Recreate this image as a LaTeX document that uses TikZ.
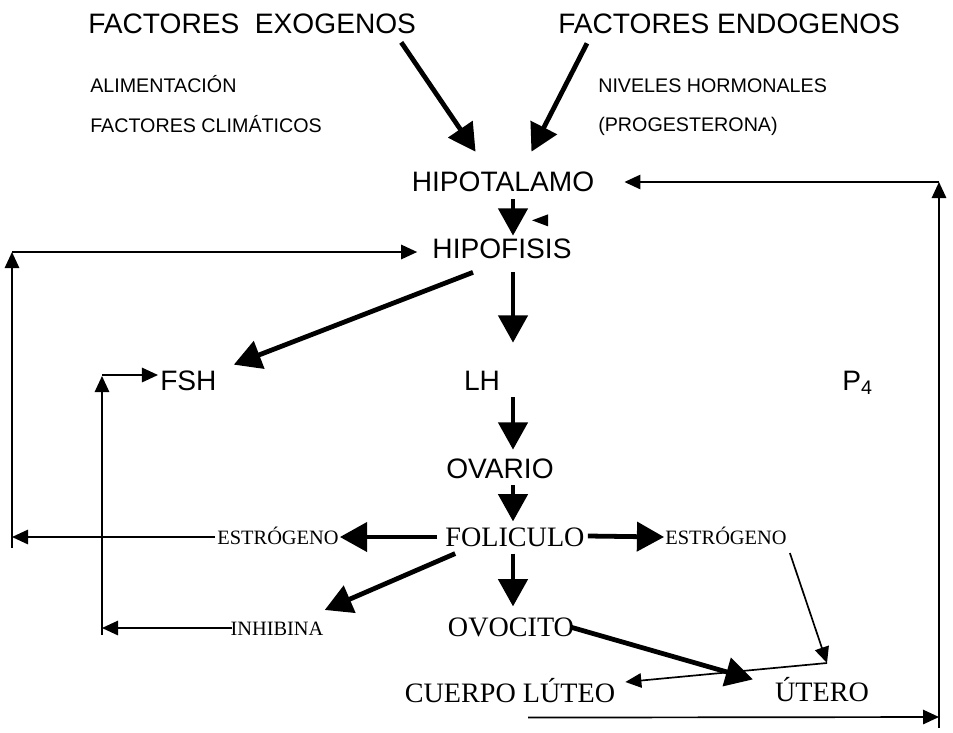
\documentclass[tikz,border=0pt]{standalone}
\usepackage{fontspec}
\setmainfont{Liberation Serif}
\setsansfont{Liberation Sans}
\usepackage{tikz}
\usetikzlibrary{arrows.meta,calc}

\begin{document}
\begin{tikzpicture}[x=0.025cm, y=-0.025cm,
        grande/.style={font=\sffamily\fontsize{20}{24}\selectfont, inner sep=0pt, text height=14.3pt, text depth=0pt},
        chico/.style={font=\sffamily\fontsize{14}{17}\selectfont, inner sep=0pt, text height=10pt, text depth=0pt},
        romana/.style={font=\rmfamily\fontsize{20}{24}\selectfont, inner sep=0pt, text height=13.2pt, text depth=0pt},
        romchica/.style={font=\rmfamily\fontsize{14.5}{17}\selectfont, inner sep=0pt, text height=9.6pt, text depth=0pt},
        gruesa/.style={line width=3.4pt, -{Triangle[length=0.68cm, width=0.72cm]}},
        fina/.style={line width=1.2pt, -{Triangle[length=0.4cm, width=0.36cm]}}]
        \useasboundingbox (0, 0) rectangle (953, 732);

        % factores
        \node[grande, anchor=west] (exo) at (88, 23) {FACTORES\ \ EXOGENOS};
        \node[grande, anchor=west] (endo) at (558, 23) {FACTORES ENDOGENOS};
        \node[chico, anchor=west] (alim) at (90, 85) {ALIMENTACIÓN};
        \node[chico, anchor=west] (clima) at (90, 125) {FACTORES CLIMÁTICOS};
        \node[chico, anchor=west] (niveles) at (598, 85) {NIVELES HORMONALES};
        \node[chico, anchor=west] (prog) at (598, 124) {(PROGESTERONA)};

        % eje central
        \node[grande] (hipotalamo) at (503, 181) {HIPOTALAMO};
        \node[grande] (hipofisis) at (502, 248) {HIPOFISIS};
        \node[grande, anchor=west] (fsh) at (160, 380) {FSH};
        \node[grande] (lh) at (482, 380) {LH};
        \node[grande, anchor=west] (p4) at (842, 380) {P\textsubscript{4}};
        \node[grande] (ovario) at (500, 468) {OVARIO};
        \node[romana] (foliculo) at (515, 537) {FOLICULO};
        \node[romchica] (estrL) at (278, 538) {ESTRÓGENO};
        \node[romchica] (estrR) at (726, 538) {ESTRÓGENO};
        \node[romchica] (inhibina) at (277, 629) {INHIBINA};
        \node[romana] (ovocito) at (511, 627) {OVOCITO};
        \node[romana] (cuerpo) at (510, 693) {CUERPO LÚTEO};
        \node[romana] (utero) at (822, 692) {ÚTERO};

        % flechas gruesas
        \draw[gruesa] ($(exo.south east)+(-15, 9)$) -- ($(hipotalamo.north west)+(64, -19)$);
        \draw[gruesa] ($(endo.south west)+(29, 10)$) -- ($(hipotalamo.north east)+(-63, -19)$);
        \draw[gruesa] ($(hipotalamo.south)+(10, 8)$) -- ($(hipofisis.north)+(11, -2)$);
        % punta suelta
        \fill ($(hipotalamo.south)+(29, 29)$) -- ++(16, -6) -- ++(0, 12) -- cycle;
        \draw[gruesa] ($(hipofisis.south)+(-29, 14)$) -- ($(fsh.north east)+(17, -5)$);
        \draw[gruesa] ($(hipofisis.south)+(11, 14)$) -- ($(lh.north)+(31, -27)$);
        \draw[gruesa] ($(lh.south)+(31, 7)$) -- ($(ovario.north)+(13, -8)$);
        \draw[gruesa] ($(ovario.south)+(13, 7)$) -- ($(foliculo.north)+(-2, -6)$);
        \draw[gruesa] ($(foliculo.south)+(-2, 7)$) -- ($(ovocito.north)+(2, -11)$);
        \draw[gruesa] ($(foliculo.west)+(-8, 0)$) -- ($(estrL.east)+(1, -1)$);
        \draw[gruesa] ($(foliculo.east)+(3, -1)$) -- ($(estrR.west)+(-1, -1)$);
        \draw[gruesa] ($(foliculo.south west)+(10, 7)$) -- ($(inhibina.north east)+(1, -12)$);
        \draw[gruesa] ($(ovocito.east)+(-4, 0)$) -- ($(utero.north west)+(-22, -3)$);

        % estrogeno hacia utero
        \coordinate (esqUtero) at (827, 663);
        \draw[fina] ($(estrR.south east)+(3, 8)$) -- (esqUtero);
        \draw[fina] (esqUtero) -- ($(cuerpo.east)+(10, -11)$);

        % lazo derecho (P4)
        \coordinate (esqDerAbajo) at (939, 717);
        \coordinate (esqDerArriba) at (939, 182);
        \draw[fina] ($(cuerpo.south)+(18, 15)$) -- (esqDerAbajo);
        \draw[fina] ($(esqDerAbajo)+(0, 11)$) -- (esqDerArriba);
        \draw[fina] (esqDerArriba) -- ($(hipotalamo.east)+(30, 1)$);

        % lazo izquierdo (estrogeno)
        \coordinate (esqIzqAbajo) at (12, 537);
        \coordinate (esqIzqArriba) at (12, 252);
        \draw[fina] ($(estrL.west)+(-2, -1)$) -- (esqIzqAbajo);
        \draw[fina] ($(esqIzqAbajo)+(0, 11)$) -- (esqIzqArriba);
        \draw[fina] (esqIzqArriba) -- ($(hipofisis.west)+(-15, 4)$);

        % lazo inhibina
        \coordinate (esqInhAbajo) at (102, 628);
        \coordinate (esqInhArriba) at (102, 376);
        \draw[fina] ($(inhibina.west)+(2, -1)$) -- (esqInhAbajo);
        \draw[fina] ($(esqInhAbajo)+(0, 7)$) -- (esqInhArriba);
        \draw[fina] ($(esqInhArriba)+(0, -1)$) -- ($(fsh.west)+(-2, -5)$);
    \end{tikzpicture}
\end{document}
